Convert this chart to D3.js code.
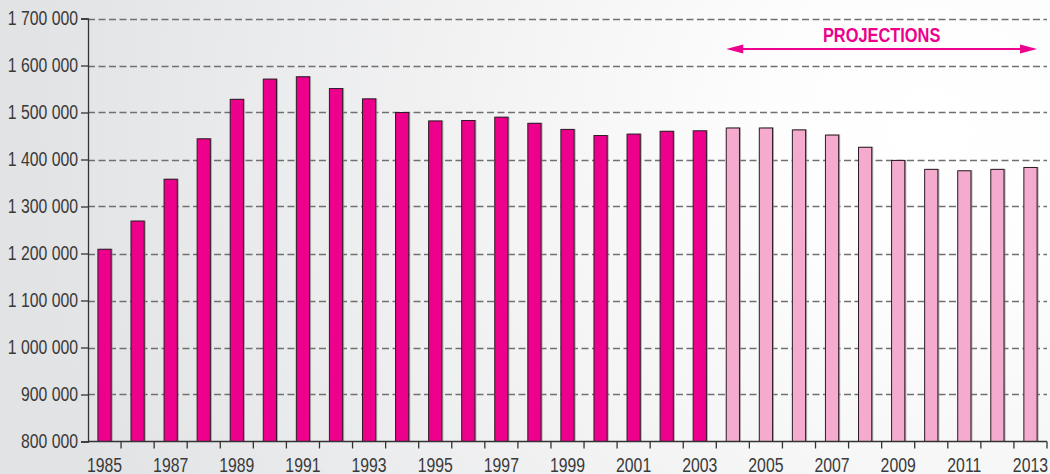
<!DOCTYPE html>
<html>
<head>
<meta charset="utf-8">
<script src="https://cdn.jsdelivr.net/npm/d3@7"></script>
<style>
  html, body { margin: 0; padding: 0; background: #fff; }
  svg { display: block; }
  text { font-family: "Liberation Sans", Arial, sans-serif; }
</style>
</head>
<body>
<div id="chart"></div>
<script>
// data
const years = [1985, 1986, 1987, 1988, 1989, 1990, 1991, 1992, 1993, 1994,
  1995, 1996, 1997, 1998, 1999, 2000, 2001, 2002, 2003, 2004,
  2005, 2006, 2007, 2008, 2009, 2010, 2011, 2012, 2013];
const values = [1209000, 1269000, 1358000, 1444000, 1528000, 1571000, 1576000, 1551000, 1529000, 1500000,
  1482000, 1483000, 1490000, 1477000, 1464000, 1451000, 1454000, 1460000, 1461000, 1467000,
  1467000, 1463000, 1452000, 1426000, 1398000, 1379000, 1376000, 1379000, 1383000];
const firstProjection = 2004;
const yTicks = [800000, 900000, 1000000, 1100000, 1200000, 1300000, 1400000, 1500000, 1600000, 1700000];
const projLabel = 'PROJECTIONS';

const width = 1050, height = 474;
const margin = {top: 18.5, right: 3, bottom: 32.5, left: 88};
const magenta = '#ec008c', pale = '#f4abcd';
const squeeze = 0.79; // condensed look, no narrow font installed

const svg = d3.select('#chart').append('svg')
  .attr('width', width)
  .attr('height', height);

// background gradient
const defs = svg.append('defs');
const grad = defs.append('radialGradient')
  .attr('id', 'bg')
  .attr('gradientUnits', 'userSpaceOnUse')
  .attr('cx', 930).attr('cy', 130).attr('r', 900);
grad.append('stop').attr('offset', '0%').attr('stop-color', '#ffffff');
grad.append('stop').attr('offset', '18%').attr('stop-color', '#fdfdfd');
grad.append('stop').attr('offset', '100%').attr('stop-color', '#e2e3e5');
svg.append('rect').attr('width', width).attr('height', height).attr('fill', 'url(#bg)');

const x = d3.scaleBand()
  .domain(years)
  .range([margin.left, width - margin.right])
  .paddingInner(0.6)
  .paddingOuter(0.3);

const y = d3.scaleLinear()
  .domain([800000, 1700000])
  .range([height - margin.bottom, margin.top]);

const fmt = d3.formatLocale({decimal: ',', thousands: ' ', grouping: [3], currency: ['', '']}).format(',d');

// gridlines
svg.append('g')
  .selectAll('line')
  .data(yTicks.slice(1))
  .join('line')
  .attr('x1', margin.left)
  .attr('x2', width - margin.right)
  .attr('y1', d => Math.round(y(d)) + 0.5)
  .attr('y2', d => Math.round(y(d)) + 0.5)
  .attr('stroke', '#707070')
  .attr('stroke-width', 1.5)
  .attr('stroke-dasharray', '7,3.5');

// bars (with a small grey shadow on the right)
const bars = svg.append('g');
bars.selectAll('rect.shadow')
  .data(years)
  .join('rect')
  .attr('class', 'shadow')
  .attr('x', d => x(d) + 1.5)
  .attr('y', (d, i) => y(values[i]) - 0.5)
  .attr('width', x.bandwidth())
  .attr('height', (d, i) => y(800000) - y(values[i]) + 0.5)
  .attr('fill', '#8a8a8a')
  .attr('opacity', 0.7);
bars.selectAll('rect.bar')
  .data(years)
  .join('rect')
  .attr('class', 'bar')
  .attr('x', d => x(d))
  .attr('y', (d, i) => y(values[i]))
  .attr('width', x.bandwidth())
  .attr('height', (d, i) => y(800000) - y(values[i]))
  .attr('fill', d => d >= firstProjection ? pale : magenta)
  .attr('stroke', '#2e1b26')
  .attr('stroke-width', 1);

// y axis
const yAxis = svg.append('g')
  .attr('transform', `translate(${margin.left},0)`)
  .call(d3.axisLeft(y).tickValues(yTicks).tickFormat(fmt).tickSize(7).tickPadding(3));
yAxis.attr('font-family', null).attr('font-size', null);
yAxis.selectAll('.tick text')
  .attr('font-size', 20)
  .attr('fill', '#3a3a3a');
yAxis.selectAll('line, path').attr('stroke', '#333').attr('stroke-width', 1.3);

// x axis: ticks on band edges, labels on every other year
const edges = d3.scaleLinear()
  .domain([0, years.length])
  .range([margin.left, width - margin.right]);
const xAxis = svg.append('g')
  .attr('transform', `translate(0,${y(800000)})`);
xAxis.append('line')
  .attr('x1', margin.left).attr('x2', width - margin.right)
  .attr('stroke', '#333').attr('stroke-width', 1.3);
xAxis.selectAll('line.tk')
  .data(d3.range(1, years.length + 1))
  .join('line')
  .attr('class', 'tk')
  .attr('x1', d => edges(d)).attr('x2', d => edges(d))
  .attr('y1', 0).attr('y2', 7)
  .attr('stroke', '#333').attr('stroke-width', 1.3);
const lastYear = years[years.length - 1];
xAxis.selectAll('text')
  .data(years.filter(d => d % 2 === 1))
  .join('text')
  .attr('x', d => d === lastYear ? width - 2 : edges(years.indexOf(d) + 0.5))
  .attr('y', 30)
  .attr('text-anchor', d => d === lastYear ? 'end' : 'middle')
  .attr('font-size', 20)
  .attr('fill', '#3a3a3a')
  .text(d => d);

// squeeze the axis labels so they look condensed
svg.selectAll('.tick text, g text').each(function() {
  const w = this.getComputedTextLength();
  d3.select(this).attr('textLength', w * squeeze).attr('lengthAdjust', 'spacingAndGlyphs');
});

// projections arrow
const ax0 = x(firstProjection), ax1 = x(lastYear) + x.bandwidth();
const ay = 49;
const proj = svg.append('g');
proj.append('line')
  .attr('x1', ax0 + 10).attr('x2', ax1 - 10)
  .attr('y1', ay).attr('y2', ay)
  .attr('stroke', magenta).attr('stroke-width', 2);
proj.append('path')
  .attr('d', `M${ax0},${ay} L${ax0 + 17},${ay - 4.5} L${ax0 + 17},${ay + 4.5} Z`)
  .attr('fill', magenta);
proj.append('path')
  .attr('d', `M${ax1},${ay} L${ax1 - 17},${ay - 4.5} L${ax1 - 17},${ay + 4.5} Z`)
  .attr('fill', magenta);
const pt = proj.append('text')
  .attr('x', (ax0 + ax1) / 2)
  .attr('y', 42)
  .attr('text-anchor', 'middle')
  .attr('font-size', 21)
  .attr('font-weight', 'bold')
  .attr('fill', magenta)
  .text(projLabel);
pt.attr('textLength', pt.node().getComputedTextLength() * 0.78).attr('lengthAdjust', 'spacingAndGlyphs');
</script>
</body>
</html>
